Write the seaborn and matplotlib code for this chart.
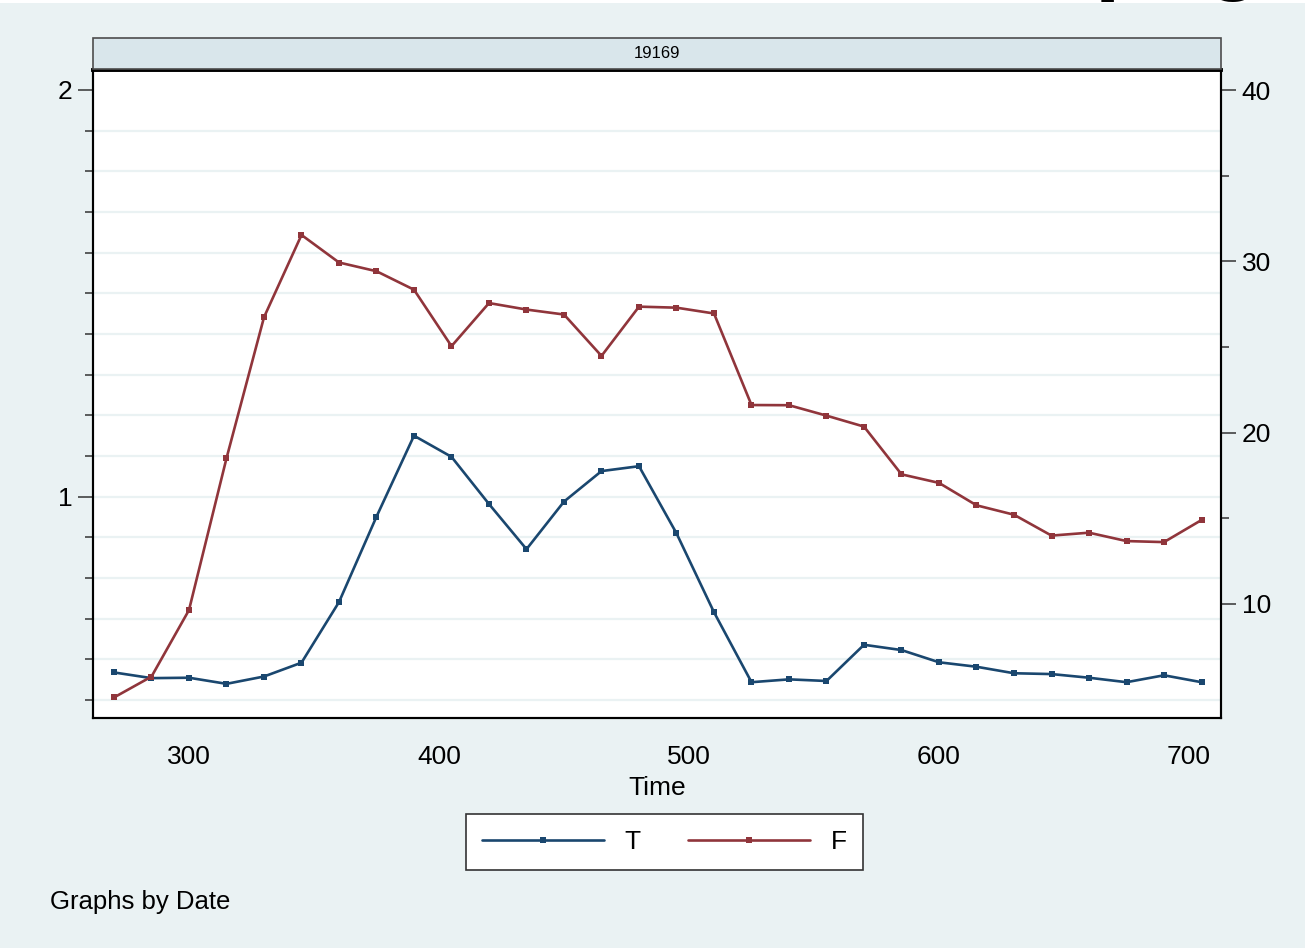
import seaborn as sns
import pandas as pd
import matplotlib.pyplot as plt
from matplotlib.patches import Rectangle

# Stata-like look: panel "19169", two y axes (T left, F right)
sns.set_style("white")
plt.rcParams['font.family'] = ['Liberation Sans', 'DejaVu Sans']
plt.rcParams['text.color'] = 'black'
plt.rcParams['axes.labelcolor'] = 'black'

BG = '#EAF2F3'
NAVY = '#1A476F'
MAROON = '#90353B'

# data
time = [270, 285, 300, 315, 330, 345, 360, 375, 390, 405,
        420, 435, 450, 465, 480, 495, 510, 525, 540, 555,
        570, 585, 600, 615, 630, 645, 660, 675, 690, 705]
t_vals = [0.568, 0.554, 0.555, 0.540, 0.558, 0.592, 0.741, 0.951, 1.150, 1.098,
          0.982, 0.871, 0.988, 1.063, 1.075, 0.910, 0.716, 0.544, 0.551, 0.547,
          0.636, 0.623, 0.593, 0.582, 0.566, 0.564, 0.555, 0.544, 0.561, 0.544]
f_vals = [4.52, 5.74, 9.63, 18.50, 26.74, 31.55, 29.94, 29.43, 28.35, 25.05,
          27.57, 27.19, 26.90, 24.48, 27.36, 27.30, 26.96, 21.61, 21.60, 20.99,
          20.35, 17.56, 17.06, 15.75, 15.20, 13.98, 14.15, 13.66, 13.60, 14.89]
panel_label = "19169"

left_major = [1, 2]
left_minor = [0.5, 0.6, 0.7, 0.8, 0.9, 1.1, 1.2, 1.3, 1.4, 1.5, 1.6, 1.7, 1.8, 1.9]
grid_vals = [0.5, 0.6, 0.7, 0.8, 0.9, 1.0, 1.1, 1.2, 1.3, 1.4, 1.5, 1.6, 1.7, 1.8, 1.9]
right_major = [10, 20, 30, 40]
right_minor = [15, 25, 35]
x_ticks = [300, 400, 500, 600, 700]

df = pd.DataFrame({'Time': time, 'T': t_vals, 'F': f_vals})

W, H = 1305, 948
fig = plt.figure(figsize=(W / 100, H / 100), dpi=100, facecolor=BG)

# white band + cut-off caption at the very top of the screenshot
fig.add_artist(Rectangle((0, 1 - 3 / H), 1, 3 / H, transform=fig.transFigure,
                         facecolor='white', edgecolor='none'))
fig.text(1095 / W, 1 + 17 / H, "png", fontsize=66, fontweight='bold',
         color='black', va='baseline', ha='left')

ax = fig.add_axes([93 / W, 1 - 718 / H, (1221 - 93) / W, (718 - 70) / H])
ax.set_facecolor('white')
for g in grid_vals:
    ax.axhline(g, color=BG, lw=1.6, zorder=0)

ax2 = ax.twinx()

sns.lineplot(data=df, x='Time', y='T', ax=ax, color=NAVY, lw=1.9,
             marker='s', markersize=4.8, markeredgewidth=0, label='T', legend=False)
sns.lineplot(data=df, x='Time', y='F', ax=ax2, color=MAROON, lw=1.9,
             marker='s', markersize=4.8, markeredgewidth=0, label='F', legend=False)

ax.set_xlim(261.6, 712.8)
ax.set_ylim(0.456, 2.049)
ax2.set_ylim(3.32, 41.19)

ax.set_xticks(x_ticks)
ax.set_yticks(left_major)
ax.set_yticks(left_minor, minor=True)
ax2.set_yticks(right_major)
ax2.set_yticks(right_minor, minor=True)
ax.set_yticklabels([str(v) for v in left_major])

for a in (ax, ax2):
    a.tick_params(axis='both', which='major', length=11, width=1.1,
                  color='#333333', labelsize=19, pad=4, labelcolor='black')
    a.tick_params(axis='y', which='minor', length=6, width=1.1, color='#333333')
    for side, sp in a.spines.items():
        sp.set_color('black')
        sp.set_linewidth(1.5)
    a.spines['top'].set_linewidth(2.6)
ax.tick_params(axis='x', length=9.5, pad=10)

ax.set_xlabel("Time", fontsize=19, labelpad=5)
ax.set_ylabel("")
ax2.set_ylabel("")

# panel strip
fig.add_artist(Rectangle((93 / W, 1 - 69 / H), (1221 - 93) / W, 31 / H,
                         transform=fig.transFigure, facecolor='#D9E6EB',
                         edgecolor='#4D4D4D', lw=1.2))
fig.text(657 / W, 1 - 53 / H, panel_label, fontsize=12, ha='center', va='center',
         family=['Liberation Sans Narrow', 'Liberation Sans'])

h1, l1 = ax.get_legend_handles_labels()
h2, l2 = ax2.get_legend_handles_labels()
leg = fig.legend(h1 + h2, l1 + l2, loc='center', bbox_to_anchor=(664.5 / W, 1 - 842 / H),
                 ncol=2, frameon=True, fancybox=False, framealpha=1, edgecolor='#333333',
                 facecolor='white', fontsize=19, handlelength=4.6, handletextpad=0.8,
                 columnspacing=1.8, borderpad=0.6, numpoints=1)
leg.get_frame().set_linewidth(1.2)

fig.text(50 / W, 1 - 902 / H, "Graphs by Date", fontsize=18.5, ha='left', va='center')

fig.savefig("out.png", dpi=100, facecolor=BG)
